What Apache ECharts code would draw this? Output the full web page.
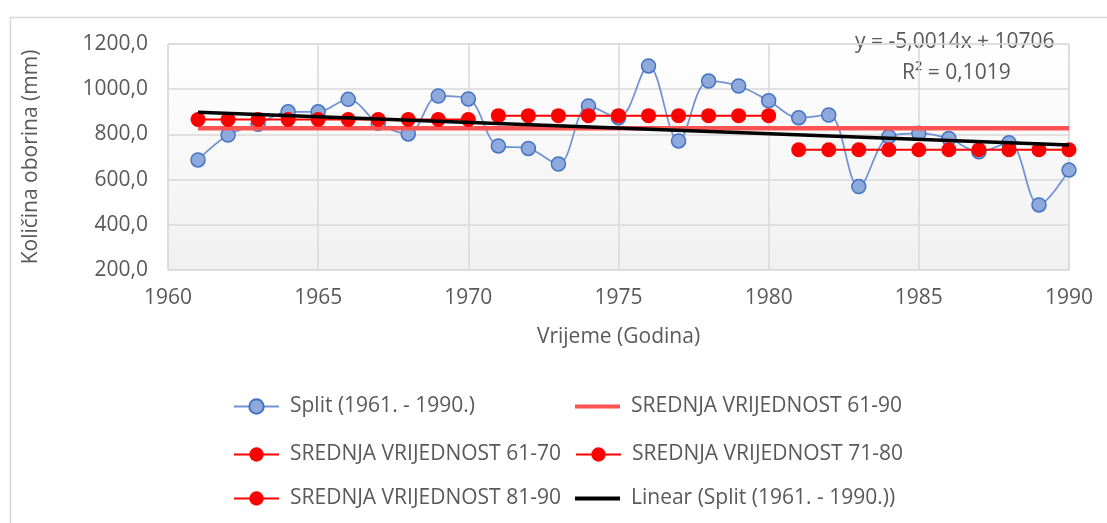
<!DOCTYPE html>
<html>
<head>
<meta charset="utf-8">
<script src="https://cdn.jsdelivr.net/npm/echarts@6/dist/echarts.min.js"></script>
<style>
  html, body { margin: 0; padding: 0; background: #fff; }
  #main { width: 1107px; height: 523px; }
</style>
</head>
<body>
<div id="main"></div>
<script>
// godine i oborine (Split, 1961-1990)
var years = [1961, 1962, 1963, 1964, 1965, 1966, 1967, 1968, 1969, 1970,
             1971, 1972, 1973, 1974, 1975, 1976, 1977, 1978, 1979, 1980,
             1981, 1982, 1983, 1984, 1985, 1986, 1987, 1988, 1989, 1990];
var oborine = [687, 797, 845, 900, 900, 955, 849, 802, 970, 957,
               749, 738, 669, 926, 874, 1103, 771, 1036, 1014, 949,
               874, 886, 569, 790, 805, 782, 723, 763, 488, 642];
// srednje vrijednosti
var srednja6190 = 827;
var srednja6170 = 866;
var srednja7180 = 883;
var srednja8190 = 732;
// linearni trend (s grafikona)
var trendNagib = -5.0014;
var trendOdsjecak = 10706;
var xTicks = [1960, 1965, 1970, 1975, 1980, 1985, 1990];
var yTicks = [200, 400, 600, 800, 1000, 1200];

var FONT = 'Open Sans';
var FS = 21;
var TXT = '#595959';

function flat(y0, y1, v) {
  var out = [];
  for (var i = 0; i < years.length; i++) {
    if (years[i] >= y0 && years[i] <= y1) out.push([years[i], v]);
  }
  return out;
}

var splitData = years.map(function (y, i) { return [y, oborine[i]]; });
var trendData = [years[0], years[years.length - 1]].map(function (y) {
  return [y, trendNagib * y + trendOdsjecak];
});

var myChart = echarts.init(document.getElementById('main'));

function leg(name, left, top, lineOnly) {
  return {
    data: [lineOnly ? { name: name, icon: 'rect' } : name],
    left: left, top: top, padding: 0, orient: 'horizontal',
    itemWidth: 45, itemHeight: lineOnly ? 4 : 18, selectedMode: false,
    textStyle: { fontFamily: FONT, fontSize: FS, color: TXT, padding: [0, 0, 0, 6] }
  };
}

var redDots = {
  type: 'line', symbol: 'circle', symbolSize: 15,
  lineStyle: { color: '#ff0000', width: 2 },
  itemStyle: { color: '#ff0000' },
  z: 4
};

option = {
  animation: false,
  backgroundColor: '#fff',
  grid: {
    left: 168, top: 44, right: 38, bottom: 253,
    show: true,
    borderColor: '#d9d9d9', borderWidth: 1,
    backgroundColor: new echarts.graphic.LinearGradient(0, 0, 0, 1, [
      { offset: 0, color: '#ffffff' }, { offset: 1, color: '#f0f0f0' }
    ])
  },
  xAxis: {
    type: 'value', min: xTicks[0], max: xTicks[xTicks.length - 1], interval: 5,
    name: 'Vrijeme (Godina)', nameLocation: 'middle', nameGap: 57,
    nameTextStyle: { fontFamily: FONT, fontSize: FS, color: TXT },
    axisLine: { show: false }, axisTick: { show: false },
    axisLabel: {
      fontFamily: FONT, fontSize: FS, color: TXT, margin: 18,
      formatter: function (v) { return String(v); }
    },
    splitLine: { show: true, lineStyle: { color: '#d9d9d9', width: 1.5 } }
  },
  yAxis: {
    type: 'value', min: yTicks[0], max: yTicks[yTicks.length - 1], interval: 200,
    name: 'Količina oborina (mm)', nameLocation: 'middle', nameGap: 126,
    nameTextStyle: { fontFamily: FONT, fontSize: FS, color: TXT },
    axisLine: { show: false }, axisTick: { show: false },
    axisLabel: {
      fontFamily: FONT, fontSize: FS, color: TXT, margin: 20,
      formatter: function (v) { return v.toFixed(1).replace('.', ','); }
    },
    splitLine: { show: true, lineStyle: { color: '#d9d9d9', width: 1.5 } }
  },
  legend: [
    leg('Split (1961. - 1990.)', 233, 396),
    leg('SREDNJA VRIJEDNOST 61-90', 575, 396, true),
    leg('SREDNJA VRIJEDNOST 61-70', 233, 444),
    leg('SREDNJA VRIJEDNOST 71-80', 575, 444),
    leg('SREDNJA VRIJEDNOST 81-90', 233, 488),
    leg('Linear (Split (1961. - 1990.))', 575, 488, true)
  ],
  graphic: [
    {
      type: 'rect', left: 8, top: 15, silent: true,
      shape: { width: 1115, height: 520 },
      style: { fill: 'none', stroke: '#d9d9d9', lineWidth: 1.5 }
    },
    {
      type: 'text', left: 855, top: 32,
      style: { text: 'y = -5,0014x + 10706', font: FS + 'px "Open Sans"', fill: TXT }
    },
    {
      type: 'text', left: 902, top: 63,
      style: { text: 'R² = 0,1019', font: FS + 'px "Open Sans"', fill: TXT }
    }
  ],
  series: [
    {
      name: 'Split (1961. - 1990.)', type: 'line', data: splitData,
      smooth: 0.35, symbol: 'circle', symbolSize: 14,
      lineStyle: { color: '#6f93d3', width: 1.75 },
      itemStyle: { color: '#8eaadc', borderColor: '#4472c4', borderWidth: 1.5 },
      z: 2
    },
    {
      name: 'SREDNJA VRIJEDNOST 61-90', type: 'line', data: flat(1961, 1990, srednja6190),
      symbol: 'none', lineStyle: { color: '#ff5252', width: 4.5 },
      itemStyle: { color: '#ff5252' }, z: 3
    },
    Object.assign({ name: 'SREDNJA VRIJEDNOST 61-70', data: flat(1961, 1970, srednja6170) }, redDots),
    Object.assign({ name: 'SREDNJA VRIJEDNOST 71-80', data: flat(1971, 1980, srednja7180) }, redDots),
    Object.assign({ name: 'SREDNJA VRIJEDNOST 81-90', data: flat(1981, 1990, srednja8190) }, redDots),
    {
      name: 'Linear (Split (1961. - 1990.))', type: 'line', data: trendData,
      symbol: 'none', lineStyle: { color: '#000000', width: 3.5 },
      itemStyle: { color: '#000000' }, z: 5
    }
  ]
};

myChart.setOption(option);
</script>
</body>
</html>
